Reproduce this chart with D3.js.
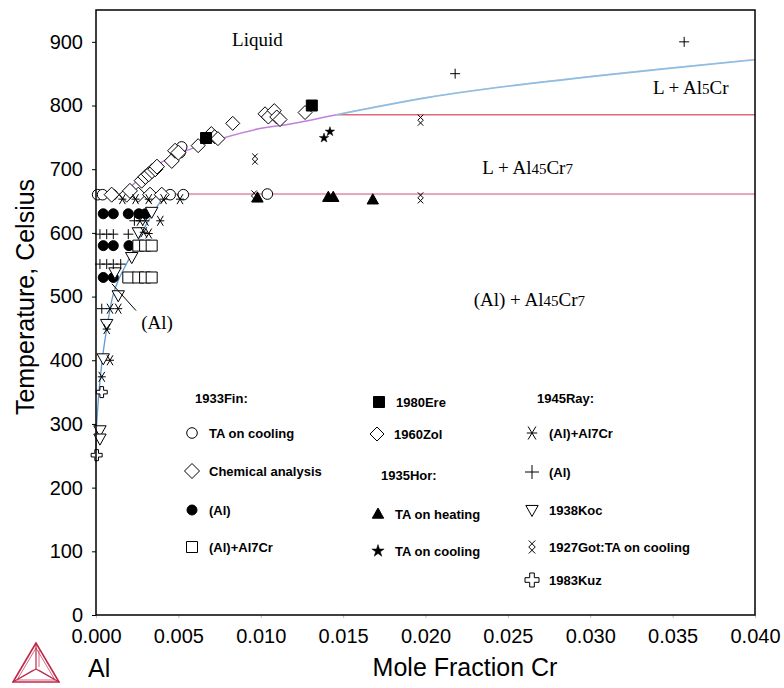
<!DOCTYPE html>
<html>
<head>
<meta charset="utf-8">
<script src="https://cdn.jsdelivr.net/npm/d3@7/dist/d3.min.js"></script>
<style>
body { margin: 0; background: #fff; }
text { font-family: "Liberation Sans", Arial, sans-serif; }
</style>
</head>
<body>
<script>
var width = 784, height = 688;

// axis ticks
var xTicks = [0, 0.005, 0.010, 0.015, 0.020, 0.025, 0.030, 0.035, 0.040];
var yTicks = [0, 100, 200, 300, 400, 500, 600, 700, 800, 900];

// calculated phase boundaries [mole fraction Cr, T]
var liquidusLow = [[0.0015, 661], [0.0021, 672], [0.0027, 687], [0.0039, 710], [0.0063, 737], [0.0098, 763], [0.0118, 771], [0.0146, 785.5]];
var liquidusHigh = [[0.0146, 785.5], [0.0200, 812], [0.0237, 826], [0.0306, 847], [0.0400, 872]];
var solvus = [[0, 240], [0.00004, 300], [0.00035, 395], [0.00073, 462], [0.00103, 502], [0.00134, 525], [0.00206, 562], [0.0030, 611], [0.0042, 661]];
var peritecticLow = [[0, 661], [0.040, 661]];
var peritecticHigh = [[0.0146, 785.5], [0.040, 785.5]];

// experimental points
var finCool = [[0.0001, 660], [0.0004, 660], [0.0010, 660], [0.0045, 660], [0.0053, 660], [0.0104, 661], [0.0051, 726], [0.0052, 735], [0.0033, 695], [0.0036, 701]];
var finChem = [[0.00095, 660], [0.00186, 660], [0.00257, 660], [0.00328, 660], [0.00399, 660], [0.00206, 666], [0.00277, 682], [0.0030, 688], [0.0032, 692], [0.0034, 697], [0.0036, 700], [0.0037, 704], [0.0046, 713], [0.0048, 729], [0.0050, 726]];
var finAl = [[0.00044, 630], [0.00105, 630], [0.00196, 630], [0.0026, 630], [0.0030, 630], [0.00044, 580], [0.00105, 580], [0.0020, 580], [0.00044, 530], [0.00105, 530]];
var finAl7 = [[0.00257, 580], [0.00298, 580], [0.00338, 580], [0.00196, 530], [0.00257, 530], [0.00298, 530], [0.00338, 530]];
var ere = [[0.00668, 749], [0.0131, 800]];
var zol = [[0.0062, 737], [0.0070, 756], [0.0072, 751], [0.0074, 748], [0.0083, 772], [0.01026, 787], [0.01046, 782], [0.01082, 792], [0.01097, 782], [0.01117, 778], [0.01269, 789]];
var horHeat = [[0.0098, 655], [0.0141, 656], [0.0144, 656], [0.0168, 652]];
var horCool = [[0.01384, 749], [0.0142, 759]];
var rayAl7 = [[0.0016, 653], [0.0024, 653], [0.0032, 653], [0.0041, 653], [0.0051, 653], [0.00267, 619], [0.0030, 619], [0.0039, 619], [0.0029, 601], [0.0032, 599], [0.00085, 481], [0.00135, 481], [0.00065, 449], [0.00085, 400], [0.00035, 374]];
var rayAl = [[0.00024, 598], [0.00065, 598], [0.00105, 598], [0.00196, 598], [0.00233, 619], [0.00024, 551], [0.00065, 551], [0.00105, 551], [0.0015, 551], [0.00035, 481], [0.0218, 850], [0.0357, 900]];
var koc = [[0.00338, 633], [0.00257, 601], [0.00217, 562], [0.00115, 538], [0.00135, 502], [0.00065, 457], [0.00044, 403], [0.00024, 290], [0.00024, 277]];
var got = [[0.00965, 716], [0.0197, 777], [0.0197, 655], [0.0096, 658]];
var kuz = [[0.00035, 350], [0.00004, 251]];

// region labels [x, T, text parts]
var regionLabels = [
  {x: 0.0098, t: 903, parts: [["Liquid", 0]]},
  {x: 0.0361, t: 827, parts: [["L + Al", 0], ["5", 1], ["Cr", 0]]},
  {x: 0.0262, t: 702, parts: [["L + Al", 0], ["45", 1], ["Cr", 0], ["7", 1]]},
  {x: 0.0263, t: 495, parts: [["(Al) + Al", 0], ["45", 1], ["Cr", 0], ["7", 1]]},
  {x: 0.0037, t: 459, parts: [["(Al)", 0]]}
];
var pointer = [[0.00097, 520], [0.00243, 478]];

var x = d3.scaleLinear().domain([0, 0.04]).range([96, 755]);
var y = d3.scaleLinear().domain([0, 950]).range([615, 10]);

var svg = d3.select("body").append("svg")
    .attr("width", width)
    .attr("height", height);

// marker shapes
function plusPath(s) { return "M" + (-s) + ",0H" + s + "M0," + (-s) + "V" + s; }
function asteriskPath(s) {
  var a = s * 0.6;
  return "M" + (-a) + "," + (-s) + "L" + a + "," + s + "M" + a + "," + (-s) + "L" + (-a) + "," + s + "M" + (-s * 0.8) + ",0H" + (s * 0.8);
}
function gotPath(s) {
  var w = s * 0.5;
  return "M" + (-w) + "," + (-s) + "L" + w + ",0L" + (-w) + "," + s +
         "M" + w + "," + (-s) + "L" + (-w) + ",0L" + w + "," + s;
}
function kuzPath(s) {
  var a = s * 0.33;
  return "M" + (-a) + "," + (-s) + "H" + a + "V" + (-a) + "H" + s + "V" + a + "H" + a + "V" + s +
         "H" + (-a) + "V" + a + "H" + (-s) + "V" + (-a) + "H" + (-a) + "Z";
}
function circlePath(r) { return d3.symbol(d3.symbolCircle, Math.PI * r * r)(); }
function diamondPath(s) { return "M0," + (-s) + "L" + s + ",0L0," + s + "L" + (-s) + ",0Z"; }
function squarePath(s) { return "M" + (-s) + "," + (-s) + "H" + s + "V" + s + "H" + (-s) + "Z"; }
function triUpPath(s) { return "M0," + (-s) + "L" + (s * 0.95) + "," + (s * 0.7) + "L" + (-s * 0.95) + "," + (s * 0.7) + "Z"; }
function triDownPath(s) { return "M0," + s + "L" + (s * 0.95) + "," + (-s * 0.7) + "L" + (-s * 0.95) + "," + (-s * 0.7) + "Z"; }
function starPath(s) { return d3.symbol(d3.symbolStar, s * s * 1.3)(); }

var markers = {
  finCool: {d: circlePath(5.3), fill: "#fff", stroke: "#000", w: 1},
  finChem: {d: diamondPath(7.5), fill: "#fff", stroke: "#000", w: 1},
  finAl: {d: circlePath(5), fill: "#000", stroke: "#000", w: 1},
  finAl7: {d: squarePath(5.5), fill: "#fff", stroke: "#000", w: 1},
  ere: {d: squarePath(5.5), fill: "#000", stroke: "#000", w: 1},
  zol: {d: diamondPath(7), fill: "#fff", stroke: "#000", w: 1},
  horHeat: {d: triUpPath(6), fill: "#000", stroke: "#000", w: 1},
  horCool: {d: starPath(4.6), fill: "#000", stroke: "#000", w: 0.5},
  rayAl7: {d: asteriskPath(5), fill: "none", stroke: "#000", w: 1},
  rayAl: {d: plusPath(5), fill: "none", stroke: "#000", w: 1},
  koc: {d: triDownPath(6.5), fill: "#fff", stroke: "#000", w: 1},
  got: {d: gotPath(5.5), fill: "none", stroke: "#000", w: 1},
  kuz: {d: kuzPath(5.5), fill: "#fff", stroke: "#000", w: 1}
};

// phase boundary lines
var line = d3.line().x(function(d) { return x(d[0]); }).y(function(d) { return y(d[1]); });
var smooth = d3.line().x(function(d) { return x(d[0]); }).y(function(d) { return y(d[1]); }).curve(d3.curveCatmullRom);

function drawLines() {
  svg.append("path").attr("d", line(peritecticLow)).attr("fill", "none").attr("stroke", "#e58c97").attr("stroke-width", 1.6);
  svg.append("path").attr("d", line(peritecticLow.map(function(d) { return [d[0], d[1] - 1]; })))
    .attr("fill", "none").attr("stroke", "#cdaed8").attr("stroke-width", 0.6);
  svg.append("path").attr("d", line(peritecticHigh)).attr("fill", "none").attr("stroke", "#e06a78").attr("stroke-width", 1.3);
  svg.append("path").attr("d", smooth(solvus)).attr("fill", "none").attr("stroke", "#5f9bd0").attr("stroke-width", 1.3);
  svg.append("path").attr("d", smooth(liquidusLow)).attr("fill", "none").attr("stroke", "#c27fdc").attr("stroke-width", 1.5);
  svg.append("path").attr("d", smooth(liquidusHigh)).attr("fill", "none").attr("stroke", "#86c0dc").attr("stroke-width", 1.6);
  svg.append("path").attr("d", smooth(liquidusHigh.map(function(d) { return [d[0], d[1] + 0.6]; })))
    .attr("fill", "none").attr("stroke", "#a8b4e6").attr("stroke-width", 0.6);
}

function drawPoints(data, key) {
  var m = markers[key];
  svg.append("g").selectAll("path").data(data).enter().append("path")
    .attr("transform", function(d) { return "translate(" + x(d[0]) + "," + y(d[1]) + ")"; })
    .attr("d", m.d)
    .attr("fill", m.fill)
    .attr("stroke", m.stroke)
    .attr("stroke-width", m.w);
}

function drawAxes() {
  var xAxis = d3.axisBottom(x).tickValues(xTicks).tickFormat(d3.format(".3f")).tickSize(3).tickPadding(11);
  var yAxis = d3.axisLeft(y).tickValues(yTicks).tickSize(4).tickPadding(9);
  var gx = svg.append("g").attr("transform", "translate(0," + y(0) + ")").call(xAxis);
  var gy = svg.append("g").attr("transform", "translate(" + x(0) + ",0)").call(yAxis);
  gx.select(".domain").remove();
  gy.select(".domain").remove();
  gx.selectAll(".tick line").attr("stroke", "#bbb");
  gx.selectAll("text").attr("font-size", 20).attr("fill", "#000").attr("font-family", "Liberation Sans, Arial, sans-serif");
  gy.selectAll("text").attr("font-size", 20).attr("fill", "#000").attr("font-family", "Liberation Sans, Arial, sans-serif");
  // frame
  svg.append("rect")
    .attr("x", x(0)).attr("y", y(950))
    .attr("width", x(0.04) - x(0)).attr("height", y(0) - y(950))
    .attr("fill", "none").attr("stroke", "#000").attr("stroke-width", 1.5);

  svg.append("text").attr("x", 465).attr("y", 676).attr("text-anchor", "middle")
    .attr("font-size", 25).text("Mole Fraction Cr");
  svg.append("text").attr("x", 88).attr("y", 677).attr("font-size", 25).text("Al");
  svg.append("text").attr("transform", "translate(34,297) rotate(-90)").attr("text-anchor", "middle")
    .attr("font-size", 25).text("Temperature, Celsius");
}

function drawLabels() {
  regionLabels.forEach(function(l) {
    var t = svg.append("text").attr("x", x(l.x)).attr("y", y(l.t) + 6)
      .attr("text-anchor", "middle").attr("font-size", 19)
      .style("font-family", "'Liberation Serif', 'Times New Roman', serif");
    l.parts.forEach(function(p) {
      t.append("tspan").attr("font-size", p[1] ? 15 : 19).text(p[0]);
    });
  });
  svg.append("path").attr("d", line(pointer)).attr("stroke", "#000").attr("stroke-width", 1).attr("fill", "none");
}

// legend
var legendHeads = [["1933Fin:", 195, 398], ["1935Hor:", 381, 475], ["1945Ray:", 537, 398]];
var legendItems = [
  ["finCool", "TA on cooling", 192, 433],
  ["finChem", "Chemical analysis", 192, 471],
  ["finAl", "(Al)", 192, 510],
  ["finAl7", "(Al)+Al7Cr", 192, 547],
  ["ere", "1980Ere", 379, 402],
  ["zol", "1960Zol", 377, 434],
  ["horHeat", "TA on heating", 378, 514],
  ["horCool", "TA on cooling", 378, 551],
  ["rayAl7", "(Al)+Al7Cr", 532, 433],
  ["rayAl", "(Al)", 532, 472],
  ["koc", "1938Koc", 532, 510],
  ["got", "1927Got:TA on cooling", 532, 547],
  ["kuz", "1983Kuz", 532, 580]
];

function legendSymbol(key) {
  if (key === "rayAl") return plusPath(7);
  if (key === "rayAl7") return asteriskPath(6.5);
  if (key === "got") return gotPath(6.5);
  if (key === "kuz") return kuzPath(7);
  if (key === "horCool") return starPath(6);
  return markers[key].d;
}

function drawLegend() {
  legendHeads.forEach(function(h) {
    svg.append("text").attr("x", h[1]).attr("y", h[2] + 5).attr("font-size", 13).attr("font-weight", "bold").text(h[0]);
  });
  legendItems.forEach(function(it) {
    var m = markers[it[0]];
    svg.append("path").attr("transform", "translate(" + it[2] + "," + it[3] + ")")
      .attr("d", legendSymbol(it[0]))
      .attr("fill", m.fill).attr("stroke", m.stroke).attr("stroke-width", m.w);
    svg.append("text").attr("x", it[2] + 17).attr("y", it[3] + 5).attr("font-size", 13).attr("font-weight", "bold").text(it[1]);
  });
}

function drawLogo() {
  var g = svg.append("g").attr("fill", "none").attr("stroke", "#c0284a").attr("stroke-width", 1);
  var A = [36, 643], B = [13, 682], C = [59, 682], O = [36, 669];
  g.append("path").attr("d", "M" + A + "L" + B + "L" + C + "Z").attr("stroke-width", 1.6);
  g.append("path").attr("d", "M" + [36, 648] + "L" + [17, 680] + "L" + [55, 680] + "Z").attr("stroke-width", 0.7);
  g.append("path").attr("d", "M" + A + "L" + O + "M" + B + "L" + O + "M" + C + "L" + O).attr("stroke-width", 1.2);
  g.append("path").attr("d", "M" + [39, 650] + "L" + [39, 667] + "M" + [18, 679] + "L" + [33, 670] + "M" + [54, 679] + "L" + [39, 670]).attr("stroke-width", 0.7);
}

drawLines();
drawPoints(finCool, "finCool");
drawPoints(finChem, "finChem");
drawPoints(zol, "zol");
drawPoints(finAl, "finAl");
drawPoints(finAl7, "finAl7");
drawPoints(ere, "ere");
drawPoints(horHeat, "horHeat");
drawPoints(horCool, "horCool");
drawPoints(koc, "koc");
drawPoints(rayAl7, "rayAl7");
drawPoints(rayAl, "rayAl");
drawPoints(got, "got");
drawPoints(kuz, "kuz");
drawAxes();
drawLabels();
drawLegend();
drawLogo();
</script>
</body>
</html>
